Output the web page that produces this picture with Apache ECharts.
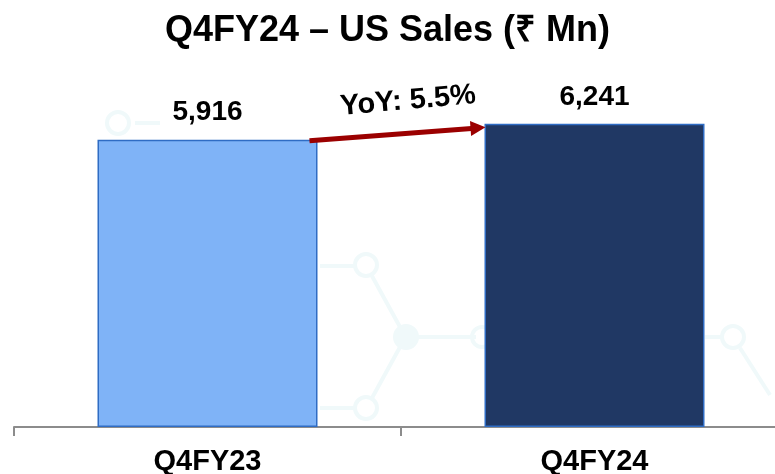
<!DOCTYPE html>
<html>
<head>
<meta charset="utf-8">
<script src="https://cdn.jsdelivr.net/npm/echarts@6/dist/echarts.min.js"></script>
<style>
html,body{margin:0;padding:0;background:#fff;}
#c{width:775px;height:474px;}
</style>
</head>
<body>
<div id="c"></div>
<script>
const titleText = 'Q4FY24 – US Sales (₹ Mn)';
const categories = ['Q4FY23', 'Q4FY24'];
const sales = [5916, 6241];
const barColors = ['#7fb3f7', '#203864'];
const yoyLabel = 'YoY: 5.5%';

const FONT = '"Liberation Sans", Arial, sans-serif';
const chart = echarts.init(document.getElementById('c'), null, {renderer: 'canvas'});

const BAR_W = 220;

// faint background decoration (molecule-like hexagons)
const deco = [];
const decoColor = '#f0f9fa';
function ring(x, y, r, fill) {
  deco.push({type: 'circle', z: -10, silent: true, shape: {cx: x, cy: y, r: r},
    style: {fill: fill ? decoColor : 'none', stroke: decoColor, lineWidth: 4}});
}
function seg(x1, y1, x2, y2) {
  deco.push({type: 'line', z: -10, silent: true, shape: {x1: x1, y1: y1, x2: x2, y2: y2},
    style: {stroke: decoColor, lineWidth: 4}});
}
seg(320, 266, 354, 266); seg(372, 276, 400, 327); seg(418, 337, 476, 337);
seg(400, 347, 372, 398); seg(320, 408, 354, 408); seg(705, 337, 721, 337);
seg(740, 348, 770, 395); seg(135, 123, 160, 123);
ring(118, 123, 11, false); ring(366, 265, 11, false); ring(406, 337, 11, true);
ring(366, 408, 11, false); ring(733, 337, 11, false); ring(482, 337, 10, false);

chart.setOption({
  animation: false,
  title: {
    text: titleText, left: 'center', top: 8,
    textStyle: {fontFamily: FONT, fontSize: 36, fontWeight: 'bold', color: '#000'}
  },
  grid: {left: 14, top: 87, width: 774, height: 340, containLabel: false, outerBoundsMode: 'none'},
  xAxis: {
    type: 'category', data: categories,
    axisLine: {lineStyle: {color: '#8c8c8c', width: 2}},
    axisTick: {show: true, length: 9, lineStyle: {color: '#8c8c8c', width: 2}},
    axisLabel: {margin: 20, fontFamily: FONT, fontSize: 29, fontWeight: 'bold', color: '#000'}
  },
  yAxis: {
    type: 'value', min: 0, max: 7000, show: false,
    splitLine: {show: false}
  },
  series: [{
    type: 'bar', barWidth: BAR_W,
    data: sales.map((v, i) => ({value: v, itemStyle: {color: barColors[i]}})),
    itemStyle: {borderColor: '#2f6cc4', borderWidth: 1.5},
    label: {
      show: true, position: 'top', distance: 13,
      fontFamily: FONT, fontSize: 28, fontWeight: 'bold', color: '#000',
      formatter: p => p.value.toLocaleString('en-US')
    }
  }],
  graphic: deco
});

// YoY arrow from top of first bar to the left edge of the second bar
const p0 = chart.convertToPixel({gridIndex: 0}, [0, sales[0]]);
const p1 = chart.convertToPixel({gridIndex: 0}, [1, sales[1]]);
const sx = p0[0] + BAR_W / 2 - 8, sy = p0[1] + 1;
const tx = p1[0] - BAR_W / 2 + 1, ty = p1[1] + 3.5;
const dx = tx - sx, dy = ty - sy, len = Math.hypot(dx, dy);
const ux = dx / len, uy = dy / len, nx = -uy, ny = ux;
const headL = 15, headW = 7.5;
const bx = tx - ux * headL, by = ty - uy * headL;
const arrowColor = '#9b0000';
const ang = -Math.atan2(dy, dx);

chart.setOption({
  graphic: deco.concat([
    {type: 'line', z: 50, shape: {x1: sx, y1: sy, x2: bx + ux * 1, y2: by + uy * 1},
      style: {stroke: arrowColor, lineWidth: 5}},
    {type: 'polygon', z: 50, shape: {points: [[tx, ty], [bx + nx * headW, by + ny * headW], [bx - nx * headW, by - ny * headW]]},
      style: {fill: arrowColor}},
    {type: 'text', z: 50, x: 408, y: 101, rotation: ang + 0.012,
      style: {text: yoyLabel, fontFamily: FONT, fontSize: 29, fontWeight: 'bold', fill: '#000',
        align: 'center', verticalAlign: 'middle'}}
  ])
});
</script>
</body>
</html>
